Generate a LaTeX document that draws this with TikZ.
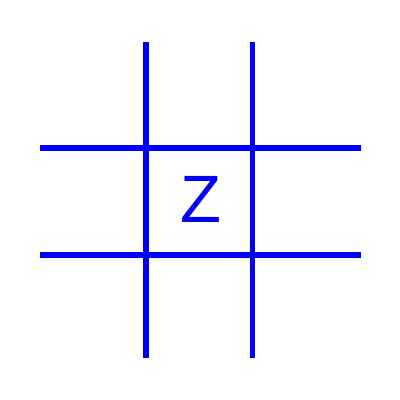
\documentclass[tikz,border=0pt]{standalone}
\usepackage{fontspec}
\setmainfont{Liberation Sans}
\begin{document}
\begin{tikzpicture}[x=1bp,y=-1bp,
  gridline/.style={draw=blue,line width=5.5bp},
  letter/.style={text=blue,font=\fontsize{67bp}{70bp}\selectfont,inner sep=0pt,anchor=center}]
\useasboundingbox (0,0) rectangle (400,400);
\coordinate (v1t) at (146,42); \coordinate (v1b) at (146,357.5);
\coordinate (v2t) at (252.5,42); \coordinate (v2b) at (252.5,357.5);
\coordinate (h1l) at (39.5,148); \coordinate (h1r) at (360.5,148);
\coordinate (h2l) at (39.5,255); \coordinate (h2r) at (360.5,255);
\draw[gridline] (v1t) -- (v1b);
\draw[gridline] (v2t) -- (v2b);
\draw[gridline] (h1l) -- (h1r);
\draw[gridline] (h2l) -- (h2r);
\node[letter] (z) at (201,199) {Z};
\end{tikzpicture}
\end{document}
